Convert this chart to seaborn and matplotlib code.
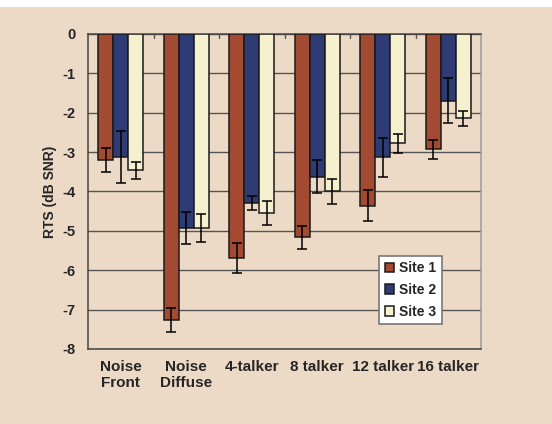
import numpy as np
import pandas as pd
import matplotlib.pyplot as plt
import seaborn as sns
from matplotlib.patches import Rectangle

# datos
condiciones = ["Noise\nFront", "Noise\nDiffuse", "4-talker", "8 talker", "12 talker", "16 talker"]
sitios = ["Site 1", "Site 2", "Site 3"]
site1 = [-3.20, -7.26, -5.69, -5.16, -4.36, -2.93]
site2 = [-3.13, -4.93, -4.29, -3.62, -3.13, -1.69]
site3 = [-3.46, -4.93, -4.55, -4.00, -2.78, -2.14]
err1 = [0.31, 0.31, 0.39, 0.29, 0.39, 0.25]
err2 = [0.66, 0.41, 0.18, 0.43, 0.50, 0.56]
err3 = [0.21, 0.36, 0.30, 0.31, 0.25, 0.19]

df = pd.DataFrame({
    "cond": condiciones * 3,
    "site": np.repeat(sitios, len(condiciones)),
    "rts": site1 + site2 + site3,
    "err": err1 + err2 + err3,
})

colores = ["#b5411f", "#243380", "#fcf6c8"]
beige = "#ecdac6"

sns.set_style("white")
plt.rcParams["font.family"] = ["Liberation Sans", "DejaVu Sans"]
plt.rcParams["font.weight"] = "bold"

fig = plt.figure(figsize=(5.52, 4.24), dpi=100)
fig.patch.set_facecolor("white")
fig.patches.append(Rectangle((0, 0), 1, 1 - 7 / 424, transform=fig.transFigure,
                             facecolor=beige, edgecolor="none", zorder=-10))
ax = fig.add_axes([88 / 552, 1 - 349 / 424, (481 - 88) / 552, (349 - 34) / 424])
ax.set_facecolor(beige)

sns.barplot(data=df, x="cond", y="rts", hue="site", palette=colores, ax=ax,
            width=0.68, edgecolor="#1a1a1a", linewidth=1.1, errorbar=None, zorder=3)

# barras de error
for i, s in enumerate(sitios):
    sub = df[df.site == s]
    x = np.arange(len(condiciones)) + (i - 1) * 0.68 / 3
    ax.errorbar(x, sub.rts, yerr=sub.err, fmt="none", ecolor="black",
                elinewidth=1.1, capsize=3.5, capthick=1.1, zorder=4)

ax.set_ylim(-8, 0)
ax.set_xlim(-0.5, 5.5)
ax.set_yticks(range(-8, 1))
ax.set_yticklabels([str(v) for v in range(-8, 1)], fontsize=10.5, fontweight="bold")
ax.yaxis.grid(True, color="#555555", linewidth=1.0, zorder=0)
ax.set_axisbelow(True)
ax.tick_params(axis="y", direction="out", length=4, width=1, color="#555555", pad=5)
ax.tick_params(axis="x", length=0, pad=8)
for lab in ax.get_xticklabels():
    lab.set_fontsize(11)
    lab.set_fontweight("bold")
ax.set_xlabel("")
ax.set_ylabel("RTS (dB SNR)", fontsize=10, fontweight="bold", labelpad=4)

# marcas entre grupos en el eje 0
for b in np.arange(0.5, 5.5, 1):
    ax.plot([b, b], [0, -0.1], color="#555555", linewidth=1, zorder=2)

for side in ["top", "left", "bottom"]:
    ax.spines[side].set_color("#444444")
    ax.spines[side].set_linewidth(1.1)
ax.spines["right"].set_color("#999999")
ax.spines["right"].set_linewidth(1.1)

leg = ax.legend(loc="upper left", bbox_to_anchor=((379 - 88) / 393, 1 - (255.7 - 34) / 315),
                frameon=True, fancybox=False, edgecolor="#777777", framealpha=1,
                prop={"weight": "bold", "size": 10}, handlelength=0.7, handleheight=0.7,
                handletextpad=0.35, labelspacing=0.55, borderpad=0.4, borderaxespad=0)
leg.get_frame().set_linewidth(1.2)

fig.savefig("out.png", dpi=100, facecolor=fig.get_facecolor())
